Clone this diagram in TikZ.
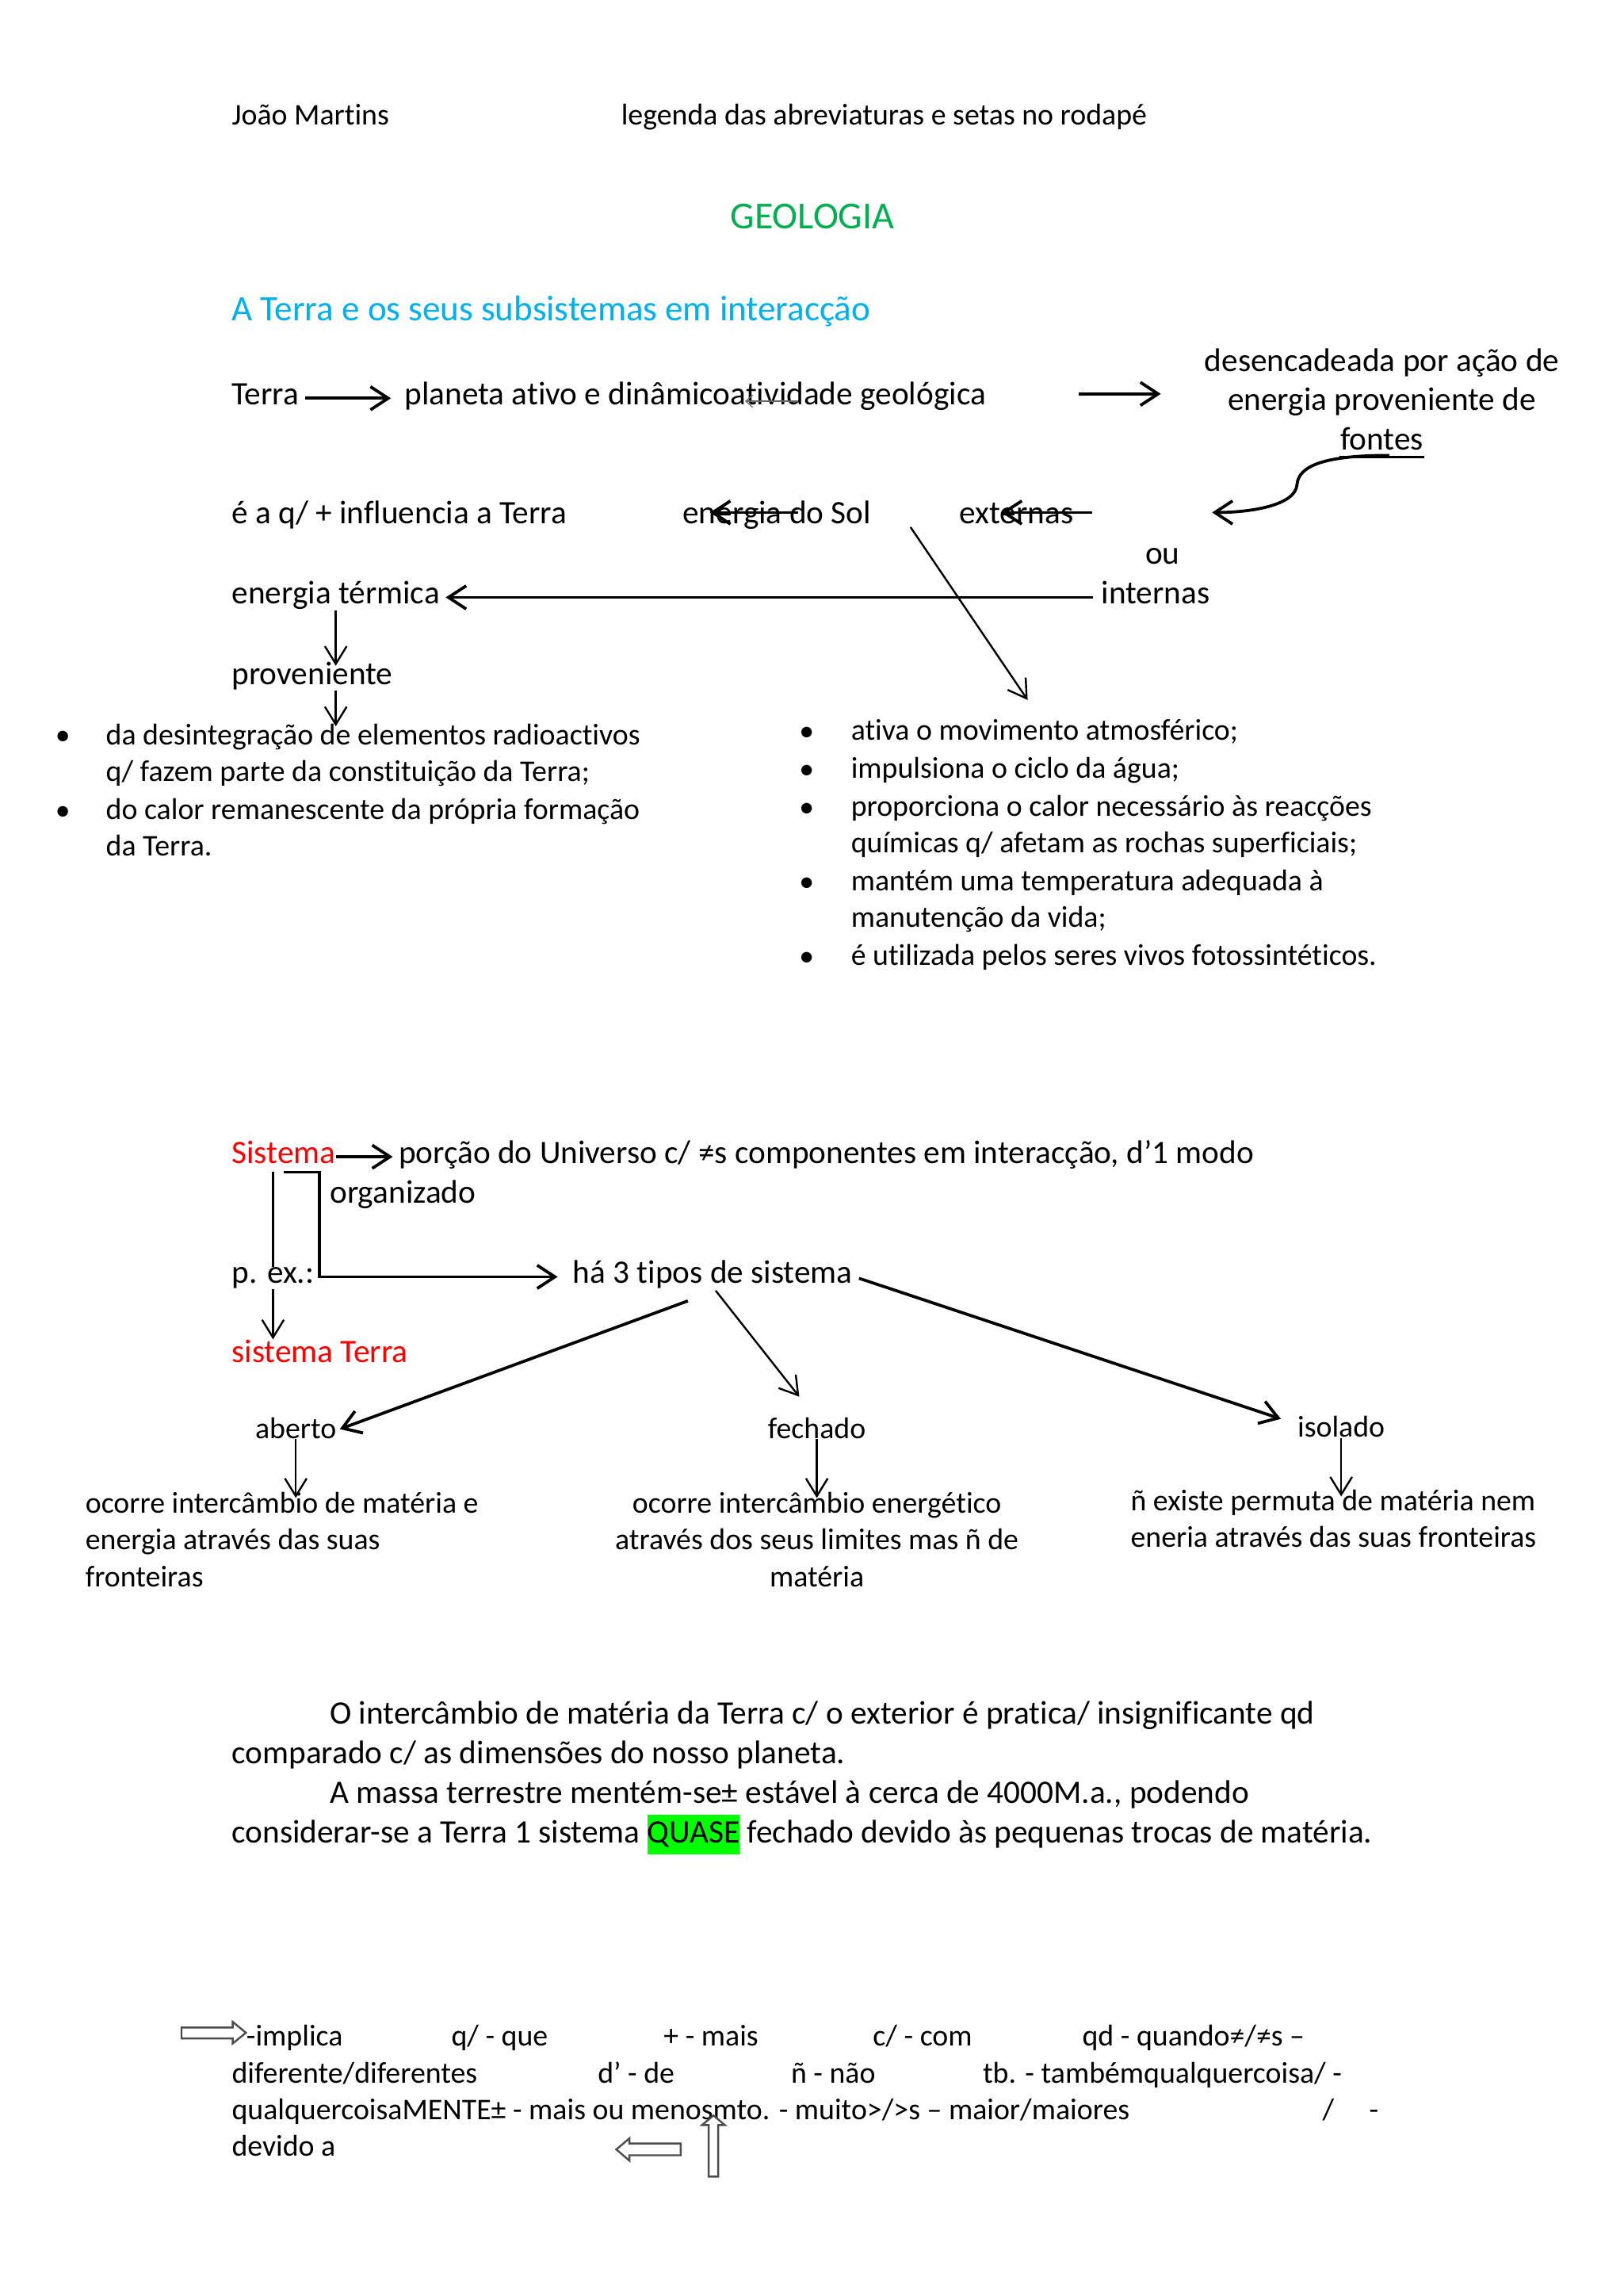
\documentclass[tikz,border=0pt]{standalone}
\usepackage{fontspec}
\setmainfont{Carlito}[Ligatures=NoCommon]
\usetikzlibrary{arrows.meta,calc}
\definecolor{geogreen}{RGB}{0,176,80}
\definecolor{titleblue}{RGB}{0,176,240}
\definecolor{hlgreen}{RGB}{0,255,0}
\definecolor{redtxt}{RGB}{255,0,0}
\tikzset{
  txt/.style={anchor=mid west, inner sep=0pt, yshift=-1.6pt, font=\fontsize{12}{14.6}\selectfont},
  sml/.style={anchor=mid west, inner sep=0pt, yshift=-1.6pt, font=\fontsize{11}{13.4}\selectfont},
  big/.style={inner sep=0pt, yshift=-2pt, font=\fontsize{14}{17}\selectfont},
  hdg/.style={inner sep=0pt, yshift=-2pt, font=\fontsize{13.1}{16}\selectfont},
  bul/.style={anchor=center, inner sep=0pt, yshift=-1.2pt, font=\fontsize{11}{13.4}\selectfont},
  thickarr/.style={line width=1.1pt, -{Straight Barb[length=6.5pt,width=8.5pt]}},
  thinarr/.style={line width=0.7pt, -{Straight Barb[length=6.5pt,width=8pt]}},
  thinline/.style={line width=0.7pt},
  blockarr/.style={draw=black!70, line width=0.7pt, fill=white},
}
\begin{document}
\begin{tikzpicture}[x=0.5368pt,y=-0.5368pt]
\useasboundingbox (0,0) rectangle (1109,1568);
\fill[white] (0,0) rectangle (1109,1568);

% header
\node[sml] (author) at (158,78) {João Martins};
\node[sml] (legend) at (424,78) {legenda das abreviaturas e setas no rodapé};
\node[big, anchor=mid, text=geogreen] (geo) at (555,148) {GEOLOGIA};
\node[hdg, anchor=mid west, text=titleblue] (title) at (158,211) {A Terra e os seus subsistemas em interacção};

% first section
\node[txt] (terra) at (158,269) {Terra};
\node[txt] (planeta) at (276,269) {planeta ativo e dinâmicoatividade geológica};
\node[txt, anchor=mid] (des1) at (944,246) {desencadeada por ação de};
\node[txt, anchor=mid] (des2) at (944,273) {energia proveniente de};
\node[txt, anchor=mid] (fontes) at (944,300) {fontes};
\draw[line width=0.8pt] ([yshift=-2.6pt]fontes.base west) -- ([yshift=-2.6pt]fontes.base east);

\draw[thickarr, shorten <=2pt, shorten >=4.8pt] (terra.mid east) -- (planeta.mid west);
\coordinate (actsrc) at (737,269);
\coordinate (actdst) at (793,269);
\draw[thickarr] (actsrc) -- (actdst);
\coordinate (tinysrc) at (545,274);
\coordinate (tinydst) at (509,274);
\draw[line width=0.35pt, black!60, -{Straight Barb[length=2.5pt,width=4.5pt]}] (tinysrc) -- (tinydst);

\node[txt] (eaq) at (158,350) {é a q/ + influencia a Terra};
\node[txt] (sol) at (466,350) {energia do Sol};
\node[txt] (ext) at (655,350) {externas};
\node[txt] (ou) at (782,378) {ou};
\node[txt] (int) at (752,405) {internas};
\node[txt] (term) at (158,405) {energia térmica};
\node[txt] (prov) at (158,460) {proveniente};

\coordinate (fsrc) at (949,311);
\coordinate (fdst) at (828,350);
\draw[thickarr] (fsrc) .. controls (905,311) and (887,318) .. (886,331)
  .. controls (885,345) and (855,350) .. (fdst);

\coordinate (solsrc) at (545,350);
\coordinate (soldst) at (485,350);
\draw[thickarr] (solsrc) -- (soldst);
\coordinate (extsrc) at (746,350);
\coordinate (extdst) at (684,350);
\draw[thickarr] (extsrc) -- (extdst);

\draw[thickarr, shorten <=3pt, shorten >=2pt] (int.mid west) -- (term.mid east);

\coordinate (diagsrc) at (622,360);
\coordinate (diagdst) at (702,478);
\draw[thinarr] (diagsrc) -- (diagdst);

% left bullets
\node[bul] (lbA) at (43,502) {•};
\node[sml] (lb1) at (72,501) {da desintegração de elementos radioactivos};
\node[sml] (lb2) at (72,526) {q/ fazem parte da constituição da Terra;};
\node[bul] (lbB) at (43,553) {•};
\node[sml] (lb3) at (72,552) {do calor remanescente da própria formação};
\node[sml] (lb4) at (72,577) {da Terra.};

\draw[thinarr] (term.south) -- ($(term.south |- prov.north)+(0,3)$);
\draw[thinarr] (term.south |- prov.south) -- ($(term.south |- lb1.mid)+(0,-8)$);

% right bullets
\node[bul] (rbA) at (551,499) {•};
\node[sml] (rb1) at (581,498) {ativa o movimento atmosférico;};
\node[bul] (rbB) at (551,525) {•};
\node[sml] (rb2) at (581,524) {impulsiona o ciclo da água;};
\node[bul] (rbC) at (551,551) {•};
\node[sml] (rb3) at (581,550) {proporciona o calor necessário às reacções};
\node[sml] (rb4) at (581,575) {químicas q/ afetam as rochas superficiais;};
\node[bul] (rbD) at (551,602) {•};
\node[sml] (rb5) at (581,601) {mantém uma temperatura adequada à};
\node[sml] (rb6) at (581,626) {manutenção da vida;};
\node[bul] (rbE) at (551,653) {•};
\node[sml] (rb7) at (581,652) {é utilizada pelos seres vivos fotossintéticos.};

% second section
\node[txt, text=redtxt] (sis) at (158,787) {Sistema};
\node[txt] (porcao) at (272,787) {porção do Universo c/ ≠s componentes em interacção, d’1 modo};
\node[txt] (org) at (225,814) {organizado};
\node[txt] (pex) at (158,869) {p. ex.:};
\node[txt] (tipos) at (391,869) {há 3 tipos de sistema};
\node[txt, text=redtxt] (sT) at (158,923) {sistema Terra};

\draw[thickarr, shorten >=2pt] (sis.mid east) -- (porcao.mid west);
\draw[thinline, shorten <=2.7pt] (pex.north |- sis.south) -- (pex.north);
\draw[thinarr] (pex.south) -- (pex.south |- sT.north);
\draw[thickarr, shorten >=5.4pt] ([yshift=-3pt]sis.south) -- ++(24.5,0) |- (tipos.mid west);

\node[sml] (aberto) at (174,975) {aberto};
\node[sml, anchor=mid] (fechado) at (558,975) {fechado};
\node[sml] (isolado) at (886,974) {isolado};

\draw[thickarr] ($(tipos.south)+(-17,8)$) -- ($(aberto.mid east)+(2,-2)$);
\draw[thinarr] ($(tipos.south)+(2,1)$) -- ($(fechado.north)+(-12,-14)$);
\draw[thickarr] ($(tipos.mid east)+(4,1)$) -- ($(isolado.mid west)+(-11,-8)$);

\node[sml] (ab1) at (58,1026) {ocorre intercâmbio de matéria e};
\node[sml] (ab2) at (58,1051) {energia através das suas};
\node[sml] (ab3) at (58,1076) {fronteiras};
\node[sml, anchor=mid] (fe1) at (558,1026) {ocorre intercâmbio energético};
\node[sml, anchor=mid] (fe2) at (558,1051) {através dos seus limites mas ñ de};
\node[sml, anchor=mid] (fe3) at (558,1076) {matéria};
\node[sml] (is1) at (772,1024) {ñ existe permuta de matéria nem};
\node[sml] (is2) at (772,1049) {eneria através das suas fronteiras};

\draw[thinarr] (aberto.south) -- ($(aberto.south |- ab1.mid)+(0,-6)$);
\draw[thinarr] (fechado.south) -- ($(fechado.south |- fe1.mid)+(0,-6)$);
\draw[thinarr] (isolado.south) -- ($(isolado.south |- is1.mid)+(0,-5)$);

% paragraph
\node[txt] (p1) at (225,1170) {O intercâmbio de matéria da Terra c/ o exterior é pratica/ insignificante qd};
\node[txt] (p2) at (158,1197) {comparado c/ as dimensões do nosso planeta.};
\node[txt] (p3) at (225,1224) {A massa terrestre mentém-se± estável à cerca de 4000M.a., podendo};
\node[txt] (p4) at (158,1251) {considerar-se a Terra 1 sistema {\setlength{\fboxsep}{0pt}\colorbox{hlgreen}{\strut QUASE}} fechado devido às pequenas trocas de matéria.};

% footer legend
\draw[blockarr] (124,1384.6) -- (159,1384.6) -- (159,1380.8) -- (168,1388.2) -- (159,1395.5) -- (159,1392.1) -- (124,1392.1) -- cycle;
\node[sml] (f1a) at (168,1390) {-implica};
\node[sml] (f1b) at (308,1390) {q/ - que};
\node[sml] (f1c) at (453,1390) {+ - mais};
\node[sml] (f1d) at (596,1390) {c/ - com};
\node[sml] (f1e) at (739,1390) {qd - quando≠/≠s –};
\node[sml] (f2a) at (158,1415) {diferente/diferentes};
\node[sml] (f2b) at (408,1415) {d’ - de};
\node[sml] (f2c) at (540,1415) {ñ - não};
\node[sml] (f2d) at (671,1415) {tb. - tambémqualquercoisa/ -};
\node[sml] (f3a) at (158,1440) {qualquercoisaMENTE± - mais ou menosmto. - muito>/>s – maior/maiores};
\node[sml] (f3b) at (903,1440) {/};
\node[sml] (f3c) at (935,1440) {-};
\node[sml] (f4a) at (158,1465) {devido a};
\draw[blockarr] (465,1463.8) -- (430,1463.8) -- (430,1460.3) -- (421,1467.9) -- (430,1475.6) -- (430,1471.9) -- (465,1471.9) -- cycle;
\draw[blockarr] (484.1,1486.4) -- (484.1,1451.2) -- (479.6,1451.2) -- (487.4,1444.7) -- (495.1,1451.2) -- (490.6,1451.2) -- (490.6,1486.4) -- cycle;
\end{tikzpicture}
\end{document}
